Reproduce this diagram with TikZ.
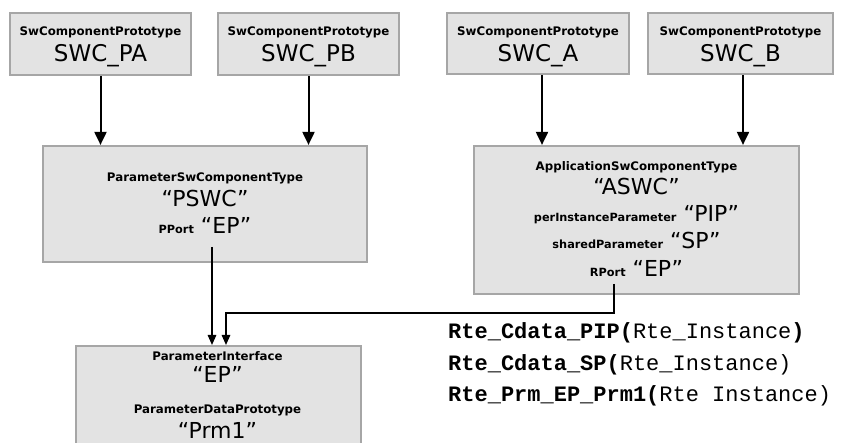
\documentclass[tikz,border=0pt]{standalone}
\usepackage{fontspec}
\setmainfont{DejaVu Sans}
\setmonofont{Liberation Mono}
\usetikzlibrary{arrows.meta}
\definecolor{boxfill}{HTML}{E3E3E3}
\definecolor{boxline}{HTML}{A6A6A6}
\newcommand{\smalllbl}[1]{{\fontsize{11.3}{13}\selectfont\bfseries #1}}
\tikzset{
  box/.style={draw=boxline, fill=boxfill, line width=2.2pt, inner sep=0pt},
  lbl/.style={font=\fontsize{11.8}{14}\selectfont\bfseries, anchor=base, inner sep=0pt},
  big/.style={font=\fontsize{22}{26}\selectfont, anchor=base, inner sep=0pt},
  bigtop/.style={font=\fontsize{23}{27}\selectfont, anchor=base, inner sep=0pt},
  arr/.style={line width=2pt, -{Triangle[width=12pt,length=13pt]}},
  arrsm/.style={line width=1.5pt, -{Triangle[width=8.5pt,length=10pt]}},
  code/.style={font=\fontsize{22}{26}\selectfont\ttfamily, anchor=base west, inner sep=0pt},
}
\begin{document}
\begin{tikzpicture}[x=1pt,y=-1pt]
\useasboundingbox (0,0) rectangle (844,443);
\clip (0,0) rectangle (844,443);
% top prototypes
\node[box, minimum width=181pt, minimum height=62pt] (pa) at (100.5,44) {};
\node[box, minimum width=181pt, minimum height=62pt] (pb) at (308.5,44) {};
\node[box, minimum width=182pt, minimum height=61pt] (sa) at (538,43.5) {};
\node[box, minimum width=185pt, minimum height=61pt] (sb) at (740.5,43.5) {};
\node[lbl] (pal) at (100.5,36) {SwComponentPrototype};
\node[bigtop] (pan) at (100.5,62) {SWC\_PA};
\node[lbl] (pbl) at (308.5,36) {SwComponentPrototype};
\node[bigtop] (pbn) at (308.5,62) {SWC\_PB};
\node[lbl] (sal) at (538,36) {SwComponentPrototype};
\node[bigtop] (san) at (538,62) {SWC\_A};
\node[lbl] (sbl) at (740.5,36) {SwComponentPrototype};
\node[bigtop] (sbn) at (740.5,62) {SWC\_B};
% component types
\node[box, minimum width=324pt, minimum height=116pt] (pswc) at (205,204) {};
\node[lbl] (pswct) at (205,182) {ParameterSwComponentType};
\node[big] (pswcn) at (205,207) {“PSWC”};
\node[big] (pport) at (205,234) {\smalllbl{PPort} “EP”};
\node[box, minimum width=325pt, minimum height=148pt] (aswc) at (636.5,220) {};
\node[lbl] (aswct) at (636.5,171) {ApplicationSwComponentType};
\node[big] (aswcn) at (636.5,195) {“ASWC”};
\node[big] (pip) at (636.5,222) {\smalllbl{perInstanceParameter} “PIP”};
\node[big] (sp) at (636.5,249) {\smalllbl{sharedParameter} “SP”};
\node[big] (rport) at (636.5,277) {\smalllbl{RPort} “EP”};
% interface box
\node[box, minimum width=285pt, minimum height=130pt, anchor=north west] (pif) at (75,345) {};
\node[lbl] (pift) at (217.5,361) {ParameterInterface};
\node[big] (pifn) at (217.5,383) {“EP”};
\node[lbl] (pdpt) at (217.5,414) {ParameterDataPrototype};
\node[big] (pdpn) at (217.5,439) {“Prm1”};
% connectors
\draw[arr] (pa.south) -- (pa.south |- pswc.north);
\draw[arr] (pb.south) -- (pb.south |- pswc.north);
\draw[arr] ([xshift=4pt]sa.south) -- ([xshift=4pt]sa.south |- aswc.north);
\draw[arr] ([xshift=2.5pt]sb.south) -- ([xshift=2.5pt]sb.south |- aswc.north);
\coordinate (pp) at (212,247);
\coordinate (rp) at (614,284);
\coordinate (bend) at (614,313);
\draw[arrsm] (pp) -- (pp |- pif.north);
\draw[arrsm] (rp) -- (bend) -- (226,313) -- (226,345);
% API text
\node[code] (c1) at (448,339) {\textbf{Rte\_Cdata\_PIP(}Rte\_Instance\textbf{)}};
\node[code] (c2) at (448,371) {\textbf{Rte\_Cdata\_SP(}Rte\_Instance)};
\node[code] (c3) at (448,402) {\textbf{Rte\_Prm\_EP\_Prm1(}Rte Instance)};
\end{tikzpicture}
\end{document}
